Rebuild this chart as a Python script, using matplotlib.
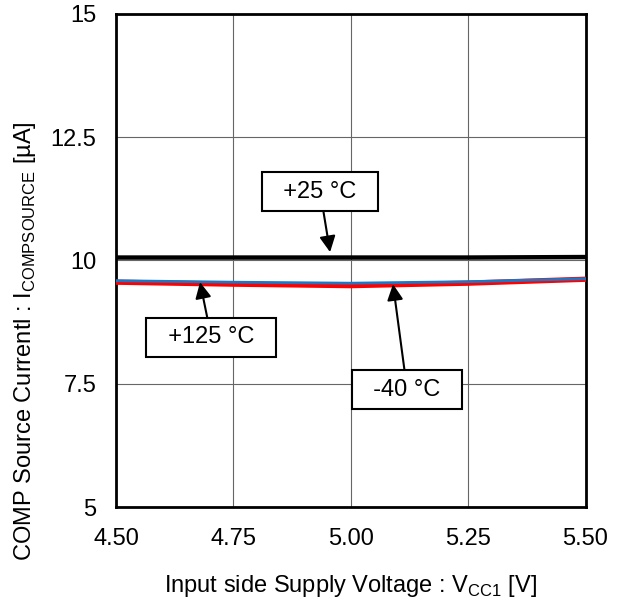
import matplotlib
matplotlib.use("Agg")
import matplotlib.pyplot as plt

plt.rcParams['font.family'] = ['Liberation Sans', 'DejaVu Sans']

vcc = [4.50, 4.75, 5.00, 5.25, 5.50]
i_25 = [10.06, 10.06, 10.06, 10.06, 10.07]
i_m40 = [9.59, 9.56, 9.54, 9.57, 9.63]
i_125 = [9.56, 9.52, 9.49, 9.54, 9.62]

xticks = [4.50, 4.75, 5.00, 5.25, 5.50]
xticklabels = ["4.50", "4.75", "5.00", "5.25", "5.50"]
yticks = [5, 7.5, 10, 12.5, 15]
yticklabels = ["5", "7.5", "10", "12.5", "15"]

FS = 17.0
fig = plt.figure(figsize=(6.22, 6.06), dpi=100)
W, H = 622, 606
ax = fig.add_axes([116 / W, 1 - 507 / H, (585.5 - 116) / W, (507 - 14) / H])

ax.plot(vcc, i_25, color='black', lw=3.2, zorder=3)
ax.plot(vcc, i_125, color='#ff0000', lw=3.8, zorder=3)
ax.plot(vcc, i_m40, color='#1f77c4', lw=2.0, zorder=4)

ax.set_xlim(4.5, 5.5)
ax.set_ylim(5, 15)
ax.set_xticks(xticks)
ax.set_xticklabels(xticklabels)
ax.set_yticks(yticks)
ax.set_yticklabels(yticklabels)
ax.tick_params(length=0, labelsize=FS)
ax.tick_params(axis='y', pad=14)
ax.tick_params(axis='x', pad=15)
ax.grid(True, color='#666666', lw=0.8)
ax.set_axisbelow(True)
for s in ax.spines.values():
    s.set_linewidth(2)
    s.set_color('black')

ax.set_xlabel(r"Input side Supply Voltage : V$_{\mathregular{CC1}}$ [V]", fontsize=FS)
ax.xaxis.set_label_coords(0.5, (507 - 586) / 493, transform=ax.transAxes)
ax.xaxis.label.set_va('center')
ax.set_ylabel(r"COMP Source Currentl : I$_{\mathregular{COMPSOURCE}}$ [µA]", fontsize=FS)
ax.yaxis.set_label_coords((25 - 116) / 469.5, (507 - 341) / 493, transform=ax.transAxes)
ax.yaxis.label.set_va('center')

bbox = dict(boxstyle='square,pad=0.36', fc='white', ec='black', lw=1.5)
arrow = dict(arrowstyle='-|>', color='black', lw=1.5, mutation_scale=24, shrinkA=0, shrinkB=0)
ax.annotate("  +25 °C  ", xy=(4.956, 10.17), xytext=(4.935, 11.39), fontsize=FS,
            ha='center', va='center', bbox=bbox, arrowprops=arrow, zorder=5)
ax.annotate("  +125 °C  ", xy=(4.679, 9.56), xytext=(4.703, 8.44), fontsize=FS,
            ha='center', va='center', bbox=bbox, arrowprops=arrow, zorder=5)
ax.annotate("  -40 °C  ", xy=(5.09, 9.52), xytext=(5.12, 7.38), fontsize=FS,
            ha='center', va='center', bbox=bbox, arrowprops=arrow, zorder=5)

fig.savefig("out.png", dpi=100)
